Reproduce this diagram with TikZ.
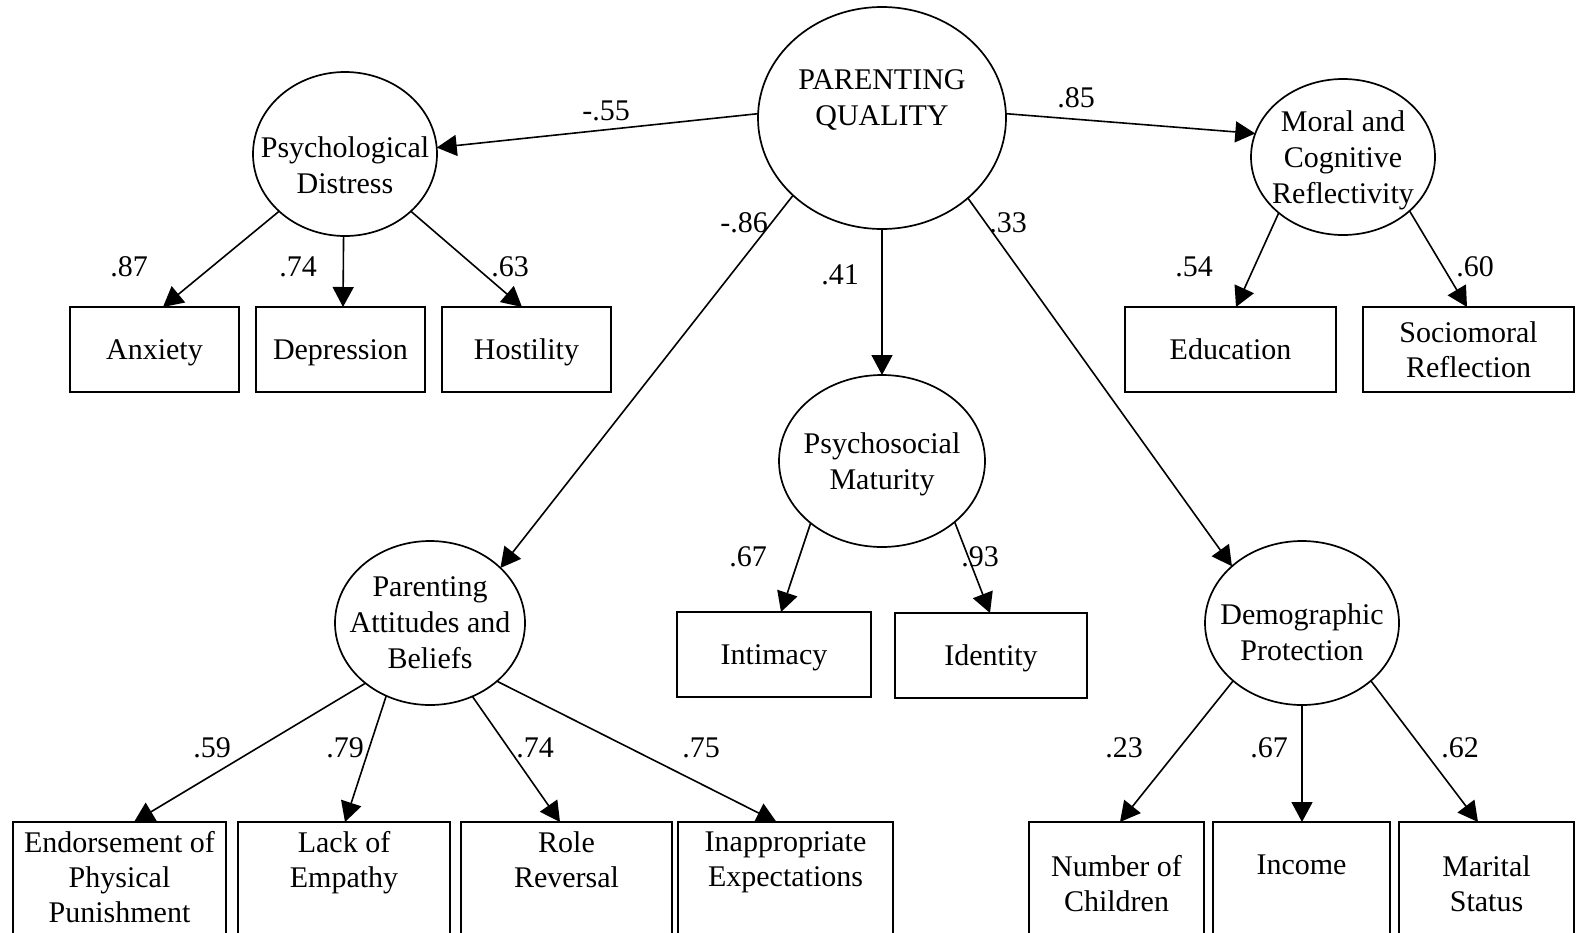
\documentclass[tikz,border=0pt]{standalone}
\usepackage{fontspec}
\setmainfont{Liberation Serif}
\usetikzlibrary{arrows.meta,calc,shapes.geometric}
\newcommand{\fsz}{\fontsize{30}{35}\selectfont}
\newcommand{\fsl}{\fontsize{30}{36}\selectfont}
\tikzset{
  lat/.style={draw, ellipse, line width=1.7pt, inner sep=0pt, outer sep=0pt},
  obs/.style={draw, rectangle, line width=1.8pt, inner sep=0pt, outer sep=0pt, align=center, font=\fsz},
  one/.style={text depth=0pt},
  lt/.style={align=center, font=\fsl, inner sep=0pt},
  bt/.style={align=center, font=\fsz, inner sep=0pt, anchor=north},
  coef/.style={font=\fsz, inner sep=0pt},
  conn/.style={line width=1.6pt, -{Triangle[length=20pt,width=21pt]}},
}
\begin{document}
\begin{tikzpicture}[x=1pt,y=-1pt]
\useasboundingbox (0,0) rectangle (1577,932);
\clip (0,0) rectangle (1577,932);
\fill[white] (0,0) rectangle (1577,932);

% latent variables
\node[lat, minimum width=248pt, minimum height=222pt,
  label={[lt, yshift=18pt]center:PARENTING\\QUALITY}] (pq) at (882,118) {};
\node[lat, minimum width=184pt, minimum height=164pt,
  label={[lt, yshift=-11pt]center:Psychological\\Distress}] (pd) at (345,154) {};
\node[lat, minimum width=184pt, minimum height=156pt,
  label={[lt, yshift=-3pt]center:Moral and\\Cognitive\\Reflectivity}] (mcr) at (1343,157) {};
\node[lat, minimum width=206pt, minimum height=172pt,
  label={[lt, yshift=-3pt]center:Psychosocial\\Maturity}] (pm) at (882,461) {};
\node[lat, minimum width=190pt, minimum height=164pt,
  label={[lt]center:Parenting\\Attitudes and\\Beliefs}] (pab) at (430,623) {};
\node[lat, minimum width=194pt, minimum height=164pt,
  label={[lt, yshift=-9pt]center:Demographic\\Protection}] (dp) at (1302,623) {};

% top row boxes
\node[obs, one, minimum width=169pt, minimum height=85pt] (anx) at (154.5,349.5) {Anxiety};
\node[obs, one, minimum width=169pt, minimum height=85pt] (dep) at (340.5,349.5) {Depression};
\node[obs, one, minimum width=169pt, minimum height=85pt] (hos) at (526.5,349.5) {Hostility};
\node[obs, one, minimum width=211pt, minimum height=85pt] (edu) at (1230.5,349.5) {Education};
\node[obs, minimum width=211pt, minimum height=85pt] (soc) at (1468.5,349.5) {Sociomoral\\Reflection};

% middle boxes
\node[obs, one, minimum width=194pt, minimum height=85pt] (int) at (774,654.5) {Intimacy};
\node[obs, one, minimum width=192pt, minimum height=85pt] (ide) at (991,655.5) {Identity};

% bottom boxes (cut by the lower edge)
\node[obs, anchor=north, minimum width=213pt, minimum height=150pt] (end) at (119.5,822) {};
\node[obs, anchor=north, minimum width=212pt, minimum height=150pt] (lack) at (344,822) {};
\node[obs, anchor=north, minimum width=211pt, minimum height=150pt] (role) at (566.5,822) {};
\node[obs, anchor=north, minimum width=215pt, minimum height=150pt] (inap) at (785.5,822) {};
\node[obs, anchor=north, minimum width=175pt, minimum height=150pt] (num) at (1116.5,822) {};
\node[obs, anchor=north, minimum width=177pt, minimum height=150pt] (inc) at (1301.5,822) {};
\node[obs, anchor=north, minimum width=175pt, minimum height=150pt] (mar) at (1486.5,822) {};

\node[bt] (endt) at ($(end.north)+(0,9)$) {Endorsement of\\Physical\\Punishment};
\node[bt] (lackt) at ($(lack.north)+(0,9)$) {Lack of\\Empathy};
\node[bt] (rolet) at ($(role.north)+(0,9)$) {Role\\Reversal};
\node[bt] (inapt) at ($(inap.north)+(0,9)$) {Inappropriate\\Expectations};
\node[bt] (numt) at ($(num.north)+(0,33)$) {Number of\\Children};
\node[bt] (inct) at ($(inc.north)+(0,33)$) {Income};
\node[bt] (mart) at ($(mar.north)+(0,33)$) {Marital\\Status};

% structural paths
\draw[conn] (pq.178) -- (pd.4);
\draw[conn] (pq.2) -- (mcr.165);
\draw[conn] (pq.221.6) -- (pab.38);
\draw[conn] (pq.270) -- (pm.90);
\draw[conn] (pq.-43) -- (dp.141);

% measurement paths
\draw[conn] (pd.221) -- ([xshift=8.5pt]anx.north);
\draw[conn] (pd.269) -- ([xshift=2.5pt]dep.north);
\draw[conn] (pd.-41) -- ([xshift=-4.5pt]hos.north);

\draw[conn] (mcr.221) -- ([xshift=5.5pt]edu.north);
\draw[conn] (mcr.-39) -- ([xshift=-1.5pt]soc.north);

\draw[conn] (pm.221) -- ([xshift=7pt]int.north);
\draw[conn] (pm.-40) -- ([xshift=-1pt]ide.north);

\draw[conn] (pab.223) -- ([xshift=14.5pt]end.north);
\draw[conn] (pab.239) -- ([xshift=1pt]lack.north);
\draw[conn] (pab.-60.4) -- ([xshift=-6.5pt]role.north);
\draw[conn] (pab.-41) -- ([xshift=-9pt]inap.north);

\draw[conn] (dp.220) -- ([xshift=3.5pt]num.north);
\draw[conn] (dp.270) -- ([xshift=0.5pt]inc.north);
\draw[conn] (dp.-40.6) -- ([xshift=-8.5pt]mar.north);

% coefficients
\node[coef] (k1) at (606,111) {-.55};
\node[coef] (k2) at (1076,98) {.85};
\node[coef] (k3) at (744,223) {-.86};
\node[coef] (k4) at (840,275) {.41};
\node[coef] (k5) at (1008,223) {.33};
\node[coef] (k6) at (129,267) {.87};
\node[coef] (k7) at (298,267) {.74};
\node[coef] (k8) at (510,267) {.63};
\node[coef] (k9) at (1194,267) {.54};
\node[coef] (k10) at (1475,267) {.60};
\node[coef] (k11) at (748,557) {.67};
\node[coef] (k12) at (980,557) {.93};
\node[coef] (k13) at (212,748) {.59};
\node[coef] (k14) at (345,748) {.79};
\node[coef] (k15) at (535,748) {.74};
\node[coef] (k16) at (701,748) {.75};
\node[coef] (k17) at (1124,748) {.23};
\node[coef] (k18) at (1269,748) {.67};
\node[coef] (k19) at (1460,748) {.62};
\end{tikzpicture}
\end{document}
